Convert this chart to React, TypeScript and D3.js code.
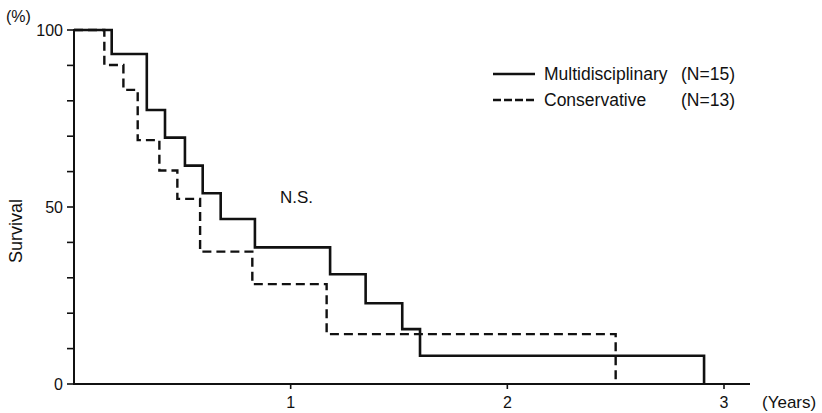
import React from "react";
import * as d3 from "d3";

const W = 822;
const H = 413;

// Kaplan-Meier step data: [years, survival %]
const multiTimes = [0, 0.174, 0.336, 0.42, 0.512, 0.594, 0.677, 0.835, 1.182, 1.346, 1.515, 1.597, 2.908];
const multiSurv = [100, 93.2, 77.4, 69.6, 61.7, 53.9, 46.6, 38.6, 31.0, 22.8, 15.5, 8.0, 0];

const consTimes = [0, 0.14, 0.228, 0.294, 0.394, 0.477, 0.582, 0.823, 1.166, 2.5];
const consSurv = [100, 90.1, 83.1, 68.9, 60.3, 52.3, 37.4, 28.2, 14.1, 0];

const xTicks = [1, 2, 3];
const yTicks = [0, 10, 20, 30, 40, 50, 60, 70, 80, 90, 100];
const yLabels = [0, 50, 100];

const legendNames = ["Multidisciplinary", "Conservative"];
const legendNs = ["(N=15)", "(N=13)"];

const FONT = "'Liberation Sans', Arial, Helvetica, sans-serif";

export default function App() {
  const x = d3.scaleLinear().domain([0, 3]).range([74, 724]);
  const y = d3.scaleLinear().domain([0, 100]).range([384, 30]);

  const line = d3
    .line<[number, number]>()
    .x((d) => x(d[0]))
    .y((d) => y(d[1]))
    .curve(d3.curveStepAfter);

  const multiData: [number, number][] = multiTimes.map((t, i) => [t, multiSurv[i]]);
  const consData: [number, number][] = consTimes.map((t, i) => [t, consSurv[i]]);

  const x0 = x(0);
  const yBase = y(0);

  return (
    <svg
      width={W}
      height={H}
      style={{ position: "absolute", left: 0, top: 0, background: "#fff" }}
      fontFamily={FONT}
    >
      {/* curves */}
      <path d={line(consData) || ""} fill="none" stroke="#111" strokeWidth={2.4} strokeDasharray="9,5" />
      <path d={line(multiData) || ""} fill="none" stroke="#111" strokeWidth={2.6} />

      {/* axes */}
      <line x1={x0} x2={x0} y1={y(100) - 1} y2={yBase} stroke="#111" strokeWidth={2} />
      <line x1={x0 - 1} x2={750} y1={yBase} y2={yBase} stroke="#111" strokeWidth={1.8} />

      {yTicks.map((t) => (
        <line key={"yt" + t} x1={x0 - 7} x2={x0} y1={y(t)} y2={y(t)} stroke="#111" strokeWidth={1.6} />
      ))}
      {yLabels.map((t) => (
        <text key={"yl" + t} x={63} y={y(t)} dy="0.36em" textAnchor="end" fontSize={16} fill="#111">
          {t}
        </text>
      ))}
      {xTicks.map((t) => (
        <g key={"xt" + t}>
          <line x1={x(t)} x2={x(t)} y1={yBase} y2={yBase + 5} stroke="#111" strokeWidth={1.6} />
          <text x={x(t)} y={yBase + 24} textAnchor="middle" fontSize={16} fill="#111">
            {t}
          </text>
        </g>
      ))}

      <text x={6} y={22} fontSize={16} fill="#111">(%)</text>
      <text x={762} y={408} fontSize={17} fill="#111">(Years)</text>
      <text
        transform={`translate(22,231) rotate(-90)`}
        textAnchor="middle"
        fontSize={18}
        fill="#111"
      >
        Survival
      </text>

      <text x={280} y={203} fontSize={17} fill="#111">N.S.</text>

      {/* legend */}
      {legendNames.map((name, i) => {
        const ly = 74 + i * 26;
        return (
          <g key={name}>
            <line
              x1={493}
              x2={535}
              y1={ly}
              y2={ly}
              stroke="#111"
              strokeWidth={2.4}
              strokeDasharray={i === 1 ? "8,3" : undefined}
            />
            <text x={544} y={ly + 6} fontSize={17.5} fill="#111">
              {name}
              <tspan x={681}>{legendNs[i]}</tspan>
            </text>
          </g>
        );
      })}
    </svg>
  );
}
